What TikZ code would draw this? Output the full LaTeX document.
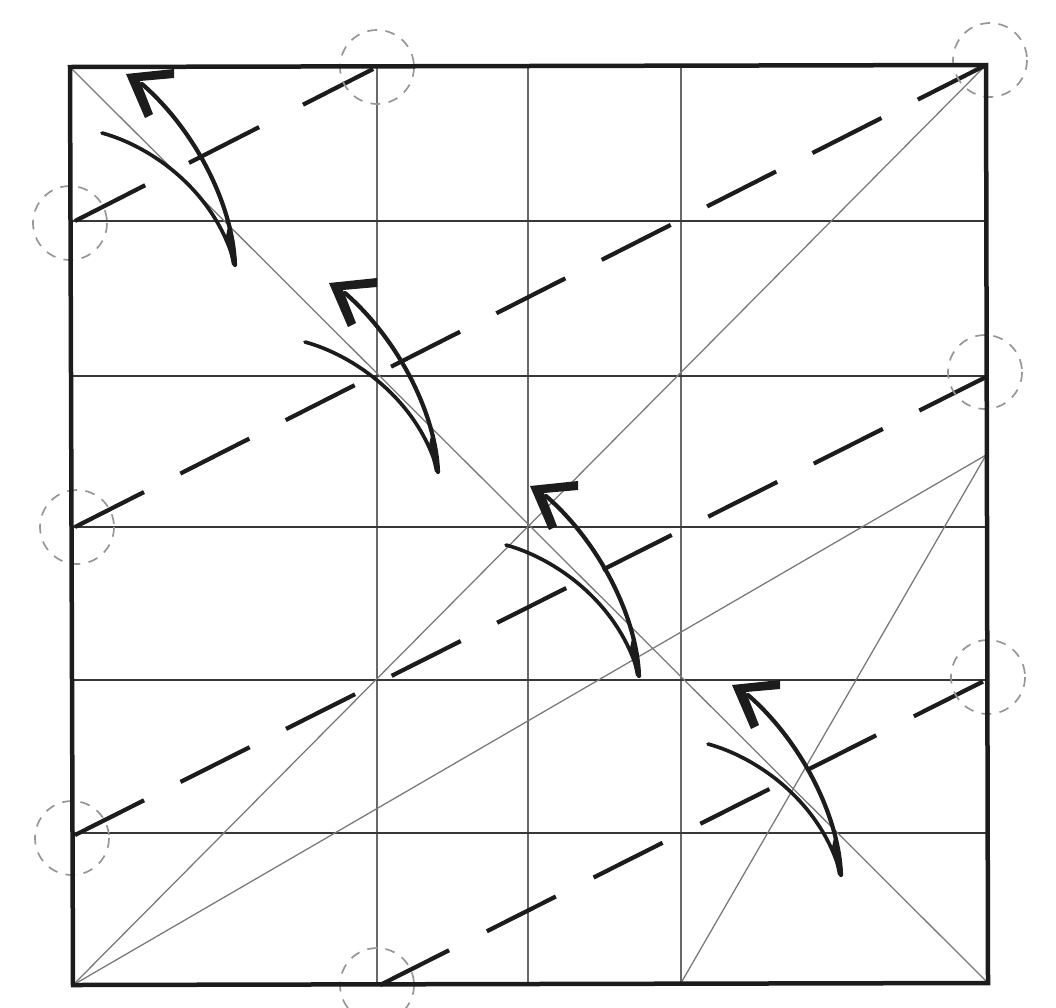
\documentclass[tikz,border=0pt]{standalone}
\usetikzlibrary{calc}
\definecolor{creasegray}{RGB}{105,105,105}
\definecolor{levelgray}{RGB}{55,55,55}
\definecolor{foldgray}{RGB}{120,120,120}
\definecolor{ringgray}{RGB}{150,150,150}
\definecolor{inkblack}{RGB}{28,28,28}
\begin{document}
\begin{tikzpicture}[
    x=0.025cm, y=-0.025cm,
    border/.style={draw=inkblack, line width=3.2pt, line join=miter},
    grid/.style={draw=creasegray, line width=0.95pt},
    level/.style={draw=levelgray, line width=1.05pt},
    fold/.style={draw=foldgray, line width=0.9pt},
    mountain/.style={draw=inkblack, line width=3pt, dash pattern=on 55pt off 29pt},
    ring/.style={draw=ringgray, line width=1.2pt, dash pattern=on 7pt off 6pt},
    curl/.style={draw=inkblack, line width=3pt, line cap=round},
  ]
    \clip (0,0) rectangle (1056,1007);
    \coordinate (tl) at (70,67);
    \coordinate (tr) at (986,65);
    \coordinate (br) at (988,983);
    \coordinate (bl) at (73,985);
    \coordinate (sidefold) at (986,455);
    \coordinate (basefold) at (681,983);

    \foreach \xpos in {377,528,681}
      \draw[grid] (\xpos,66) -- (\xpos,984);
    \foreach \ypos in {221,376,527,680,833}
      \draw[level] (72,\ypos) -- (986,\ypos);

    \draw[fold] (tl) -- (br);
    \draw[fold] (bl) -- (tr);
    \draw[fold] (bl) -- (sidefold);
    \draw[fold] (basefold) -- (sidefold);

    \draw[mountain, dash pattern=on 56pt off 35pt] (75,221) -- (377,67);
    \draw[mountain] (75,527) -- (984,66);
    \draw[mountain] (75,835) -- (986,377);
    \draw[mountain, dash pattern=on 55pt off 30pt] (380,985) -- (986,680);

    \foreach \xpos/\ypos in {377/67, 990/60, 70/223, 77/527, 985/372, 988/677, 72/838, 377/985}
      \draw[ring] (\xpos,\ypos) circle (37);

    \draw[border] (tl) -- (tr) -- (br) -- (bl) -- cycle;

    \foreach \xoff/\yoff/\yend in {0/0/265, 203/209/263, 404/412/264, 606/611/264} {
      \begin{scope}[shift={(\xoff,\yoff)}]
        \draw[curl, line width=2.6pt] (102,133) .. controls (150,146) and (215,190) .. (235,\yend);
        \draw[curl] (235,\yend) .. controls (233,205) and (195,130) .. (142,84);
        \fill[inkblack] (229,222) -- (234,240) -- (237,\yend) -- (232,\yend) -- (226,236) -- cycle;
        \fill[inkblack] (126,74) -- (174,69) -- (174,78) -- (140,81) -- (153,114) -- (145,118) -- cycle;
      \end{scope}
    }
\end{tikzpicture}
\end{document}
